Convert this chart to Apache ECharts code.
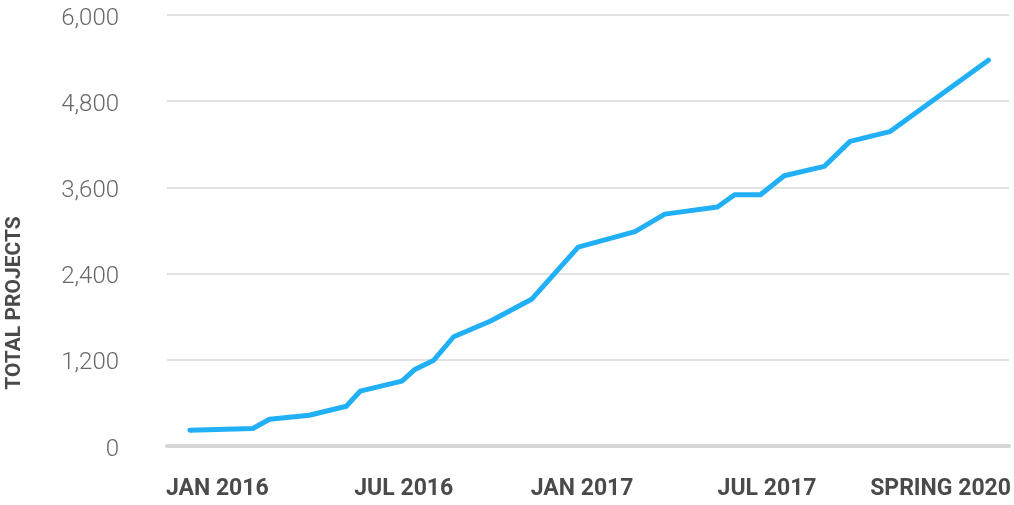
<!DOCTYPE html>
<html>
<head>
<meta charset="utf-8">
<script src="https://cdn.jsdelivr.net/npm/echarts@6/dist/echarts.min.js"></script>
<style>
html,body{margin:0;padding:0;background:#fff;}
#c{width:1014px;height:505px;}
</style>
</head>
<body>
<div id="c"></div>
<script>
// x: months since Jan 2016, y: total projects
const monthsX = [-0.91, 1.18, 1.74, 3.06, 4.29, 4.75, 6.14, 6.57, 7.20, 7.86, 9.09, 10.45, 12.0, 13.89, 14.88, 16.63, 17.20, 18.06, 18.85, 20.18, 21.04, 22.36, 25.64];
const totalProjects = [219, 243, 372, 428, 554, 763, 903, 1066, 1195, 1521, 1740, 2042, 2768, 2985, 3228, 3326, 3497, 3497, 3762, 3892, 4241, 4376, 5371];
const tickPositions = [0, 6.2, 12.13, 18.28, 24.05];
const tickLabels = ['JAN 2016', 'JUL 2016', 'JAN 2017', 'JUL 2017', 'SPRING 2020'];
const yTicks = [0, 1200, 2400, 3600, 4800, 6000];

const chart = echarts.init(document.getElementById('c'), null, {renderer: 'canvas'});
const data = monthsX.map((x, i) => [x, totalProjects[i]]);

chart.setOption({
  animation: false,
  backgroundColor: '#ffffff',
  grid: {left: 167, right: 1, top: 15, bottom: 59, containLabel: false},
  xAxis: {
    type: 'value',
    min: -1.672,
    max: 26.33,
    splitLine: {show: false},
    axisTick: {show: false},
    axisLine: {show: true, lineStyle: {color: '#d6d6d6', width: 4}},
    axisLabel: {
      customValues: tickPositions,
      formatter: function (v) {
        const i = tickPositions.indexOf(v);
        return i >= 0 ? tickLabels[i] : '';
      },
      margin: 32,
      color: '#4a4a4a',
      fontFamily: 'Roboto',
      fontWeight: 'bold',
      fontSize: 23
    }
  },
  yAxis: {
    type: 'value',
    min: yTicks[0],
    max: yTicks[yTicks.length - 1],
    interval: 1200,
    axisLine: {show: false},
    axisTick: {show: false},
    splitLine: {lineStyle: {color: '#d9d9d9', width: 1.5}},
    axisLabel: {
      formatter: function (v) { return v.toLocaleString('en-US'); },
      margin: 48,
      verticalAlign: 'top',
      lineHeight: 7,
      color: '#686868',
      fontFamily: 'Roboto',
      fontWeight: 300,
      fontSize: 24
    }
  },
  graphic: [{
    type: 'text',
    x: 15,
    y: 303,
    rotation: Math.PI / 2,
    style: {
      text: 'TOTAL PROJECTS',
      fill: '#4a4a4a',
      font: 'bold 21px Roboto',
      align: 'center',
      verticalAlign: 'middle'
    }
  }],
  series: [{
    type: 'line',
    data: data,
    showSymbol: false,
    symbol: 'none',
    lineStyle: {color: '#21aff5', width: 5, cap: 'round', join: 'round'}
  }]
});
</script>
</body>
</html>
